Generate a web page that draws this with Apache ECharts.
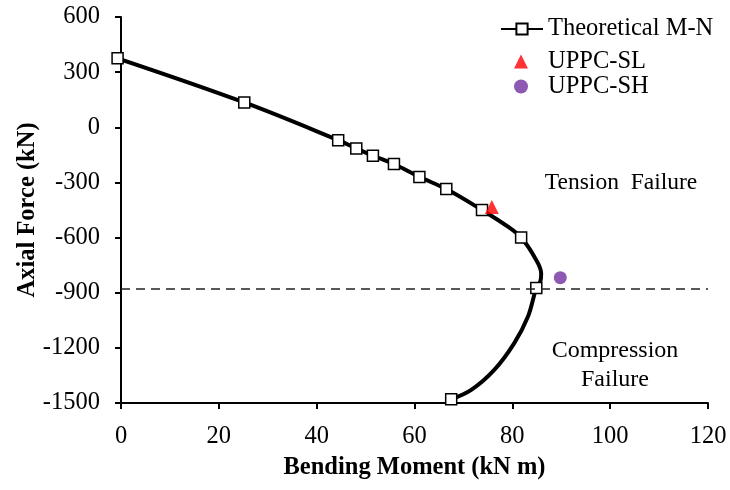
<!DOCTYPE html>
<html><head><meta charset="utf-8">
<script src="https://cdn.jsdelivr.net/npm/echarts@6/dist/echarts.min.js"></script>
<style>html,body{margin:0;padding:0;background:#fff}#c{width:730px;height:490px}</style>
</head><body><div id="c"></div>
<script>
// Theoretical M-N curve path (moment kN m, axial force kN); marked = shown with square marker
const pathM = [-0.7, 25.2, 44.4, 48.1, 51.5, 55.8, 61.0, 66.5, 73.8, 79.1, 81.8, 84.5, 85.9, 85.7, 84.9, 83.2, 80.4, 76.3, 71.6, 67.5];
const pathN = [375, 135, -70, -115, -155, -200, -270, -336, -450, -541, -600, -704, -795, -840, -875, -1030, -1174, -1320, -1429, -1480];
const pathMarked = [1,1,1,1,1,1,1,1,1,0,1,0,0,0,1,0,0,0,0,1];
const slM = [75.8], slN = [-434];
const shM = [89.8], shN = [-818];
const balancedN = -880;
const xTickLabels = ['0', '20', '40', '60', '80', '100', '120'];
const yTickLabels = ['-1500', '-1200', '-900', '-600', '-300', '0', '300', '600'];
const xTicks = {min: 0, max: 120, interval: 20};
const yTicks = {min: -1500, max: 600, interval: 300};
const seriesNames = ['Theoretical M-N', 'UPPC-SL', 'UPPC-SH'];
const notes = ['Tension  Failure', 'Compression', 'Failure'];

const font = 'Liberation Serif';
const fs = 24.5;
const chart = echarts.init(document.getElementById('c'), null, {renderer: 'canvas'});
const theo = pathM.map((m, i) => pathMarked[i]
  ? {value: [m, pathN[i]]}
  : {value: [m, pathN[i]], symbol: 'none'});

chart.setOption({
  animation: false,
  backgroundColor: '#fff',
  textStyle: {fontFamily: font},
  grid: {left: 121, right: 22, top: 17, bottom: 87},
  legend: [
    {
      orient: 'vertical', left: 500, top: 16, padding: 0, itemWidth: 42, itemHeight: 14, itemGap: 0,
      textStyle: {fontFamily: font, fontSize: fs, color: '#000', lineHeight: 26},
      data: [seriesNames[0]]
    },
    {
      orient: 'vertical', left: 514, top: 49, padding: 0, itemWidth: 14, itemHeight: 14, itemGap: 0,
      textStyle: {fontFamily: font, fontSize: fs, color: '#000', lineHeight: 25, padding: [0, 0, 0, 15]},
      data: [seriesNames[1], seriesNames[2]]
    }
  ],
  xAxis: {
    type: 'value', min: xTicks.min, max: xTicks.max, interval: xTicks.interval,
    name: 'Bending Moment (kN m)', nameLocation: 'middle', nameGap: 52, nameMoveOverlap: false,
    nameTextStyle: {fontFamily: font, fontSize: fs, fontWeight: 'bold', color: '#000'},
    axisLine: {onZero: false, lineStyle: {color: '#000', width: 2}},
    axisTick: {show: true, length: 6, lineStyle: {color: '#000', width: 2}},
    axisLabel: {fontFamily: font, fontSize: fs, color: '#000', margin: 21,
      formatter: (v, i) => xTickLabels[i]},
    splitLine: {show: false}
  },
  yAxis: {
    type: 'value', min: yTicks.min, max: yTicks.max, interval: yTicks.interval,
    name: 'Axial Force (kN)', nameLocation: 'middle', nameGap: 81, nameMoveOverlap: false,
    nameTextStyle: {fontFamily: font, fontSize: fs, fontWeight: 'bold', color: '#000'},
    axisLine: {show: true, onZero: false, lineStyle: {color: '#000', width: 2}},
    axisTick: {show: true, length: 6, lineStyle: {color: '#000', width: 2}},
    axisLabel: {fontFamily: font, fontSize: fs, color: '#000', margin: 21,
      formatter: (v, i) => yTickLabels[i]},
    splitLine: {show: false}
  },
  series: [
    {
      name: seriesNames[0], type: 'line', data: theo, smooth: 0.35, clip: false,
      symbol: 'rect', symbolSize: 11, showAllSymbol: true,
      lineStyle: {color: '#000', width: 4},
      itemStyle: {color: '#fff', borderColor: '#000', borderWidth: 1.5},
      z: 3,
      markLine: {
        silent: true, symbol: 'none', label: {show: false},
        lineStyle: {color: '#222', width: 1.5, type: [9, 6]},
        data: [{yAxis: balancedN}]
      }
    },
    {
      name: seriesNames[1], type: 'scatter', data: slM.map((m, i) => [m, slN[i]]),
      symbol: 'triangle', symbolSize: 14, itemStyle: {color: '#ff0000'}, z: 4
    },
    {
      name: seriesNames[2], type: 'scatter', data: shM.map((m, i) => [m, shN[i]]),
      symbol: 'circle', symbolSize: 13, itemStyle: {color: '#7030a0'}, z: 4
    }
  ],
  graphic: [
    {type: 'text', x: 621, y: 183, style: {text: notes[0], font: '23.5px "Liberation Serif"', fill: '#000', textAlign: 'center', textVerticalAlign: 'middle'}},
    {type: 'text', x: 615, y: 351, style: {text: notes[1], font: '24px "Liberation Serif"', fill: '#000', textAlign: 'center', textVerticalAlign: 'middle'}},
    {type: 'text', x: 615, y: 380, style: {text: notes[2], font: '24px "Liberation Serif"', fill: '#000', textAlign: 'center', textVerticalAlign: 'middle'}}
  ]
});
</script></body></html>
